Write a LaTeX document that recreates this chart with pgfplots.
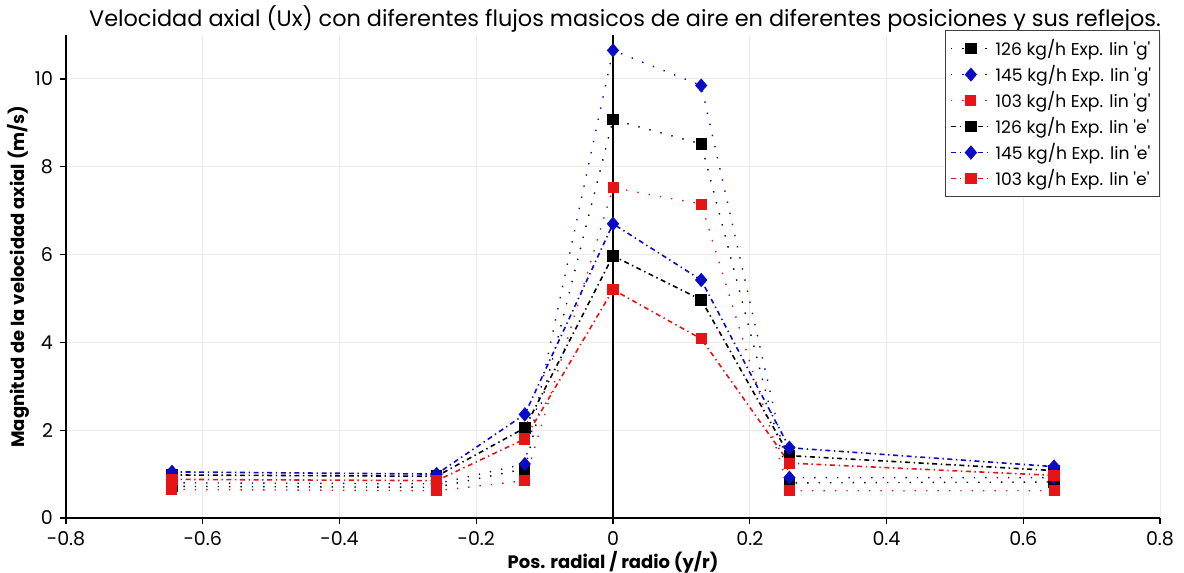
\documentclass[border=0pt]{standalone}
\usepackage{fontspec}
\setmainfont{Poppins}
\usepackage{pgfplots}
\pgfplotsset{compat=1.18}
\definecolor{serblack}{RGB}{0,0,0}
\definecolor{serblue}{RGB}{10,10,200}
\definecolor{serred}{RGB}{230,20,20}
\definecolor{gridgray}{RGB}{235,235,235}

% Axial velocity along two measurement lines ('g' and 'e') for three mass flows
\pgfplotstableread{
x      g126  g145  g103  e126  e145  e103
-0.645 0.72  0.80  0.65  0.98  1.05  0.88
-0.258 0.70  0.78  0.62  0.95  1.00  0.85
-0.129 1.12  1.23  0.85  2.05  2.36  1.80
0.000  9.07  10.65 7.52  5.97  6.70  5.20
0.129  8.52  9.85  7.15  4.97  5.42  4.08
0.258  0.80  0.92  0.62  1.42  1.60  1.25
0.645  0.82  0.92  0.62  1.08  1.17  0.97
}\datatable

\newcommand{\q}{\textquotesingle}

\begin{document}
\begin{tikzpicture}
\useasboundingbox (-33pt,-27.5pt) rectangle (559pt,259pt);
\begin{axis}[
  scale only axis,
  width=547pt, height=241.5pt,
  xmin=-0.8, xmax=0.8, ymin=0, ymax=11,
  xtick={-0.8,-0.6,...,0.8},
  ytick={0,2,...,10},
  axis lines*=left,
  axis line style={black, line width=0.6pt},
  tick align=outside,
  major tick length=3pt,
  tick style={black, line width=0.6pt},
  grid=major,
  major grid style={gridgray, line width=0.5pt},
  /pgf/number format/assume math mode=true,
  ticklabel style={font=\fontsize{9.5}{10}\selectfont},
  xlabel={\bfseries Pos. radial / radio (y/r)},
  ylabel={\bfseries Magnitud de la velocidad axial (m/s)},
  xlabel style={font=\fontsize{9}{10}\selectfont, yshift=4pt},
  ylabel style={font=\fontsize{9}{10}\selectfont, yshift=-4pt},
  title={Velocidad axial (Ux) con diferentes flujos masicos de aire en diferentes posiciones y sus reflejos.},
  title style={font=\fontsize{11.2}{12}\selectfont, yshift=-8pt, xshift=6pt},
  legend style={at={(1,1.01)}, anchor=north east, draw=black!75, fill=white,
    font=\fontsize{8.6}{10}\selectfont, row sep=-0.6pt, inner sep=2.2pt,
    cells={anchor=west}},
  legend image code/.code={
    \draw[mark repeat=2,mark phase=2,#1]
      plot coordinates {(0cm,0cm) (0.35cm,0cm) (0.7cm,0cm)};
  },
  clip=false,
]
\addplot[serblack, line width=0.7pt, dash pattern=on 0.7pt off 5pt, mark=square*, mark size=2.5pt, mark options={solid}] table[x=x,y=g126] \datatable;
\addlegendentry{126 kg/h Exp. lin \q g\q}
\addplot[serblue, line width=0.7pt, dash pattern=on 0.7pt off 5pt, mark=diamond*, mark size=3pt, mark options={solid, xscale=1.15}] table[x=x,y=g145] \datatable;
\addlegendentry{145 kg/h Exp. lin \q g\q}
\addplot[serred, line width=0.7pt, dash pattern=on 0.7pt off 5pt, mark=square*, mark size=2.4pt, mark options={solid, rounded corners=1.2pt}] table[x=x,y=g103] \datatable;
\addlegendentry{103 kg/h Exp. lin \q g\q}
\addplot[serblack, line width=0.8pt, dash pattern=on 2.5pt off 1.8pt on 0.7pt off 1.8pt, mark=square*, mark size=2.5pt, mark options={solid}] table[x=x,y=e126] \datatable;
\addlegendentry{126 kg/h Exp. lin \q e\q}
\addplot[serblue, line width=0.8pt, dash pattern=on 2.5pt off 1.8pt on 0.7pt off 1.8pt, mark=diamond*, mark size=3pt, mark options={solid, xscale=1.15}] table[x=x,y=e145] \datatable;
\addlegendentry{145 kg/h Exp. lin \q e\q}
\addplot[serred, line width=0.8pt, dash pattern=on 2.5pt off 1.8pt on 0.7pt off 1.8pt, mark=square*, mark size=2.4pt, mark options={solid, rounded corners=1.2pt}] table[x=x,y=e103] \datatable;
\addlegendentry{103 kg/h Exp. lin \q e\q}
% vertical axis line through the centre
\draw[black, line width=0.6pt] (axis cs:0,0) -- (axis cs:0,11);
\end{axis}
\end{tikzpicture}
\end{document}
